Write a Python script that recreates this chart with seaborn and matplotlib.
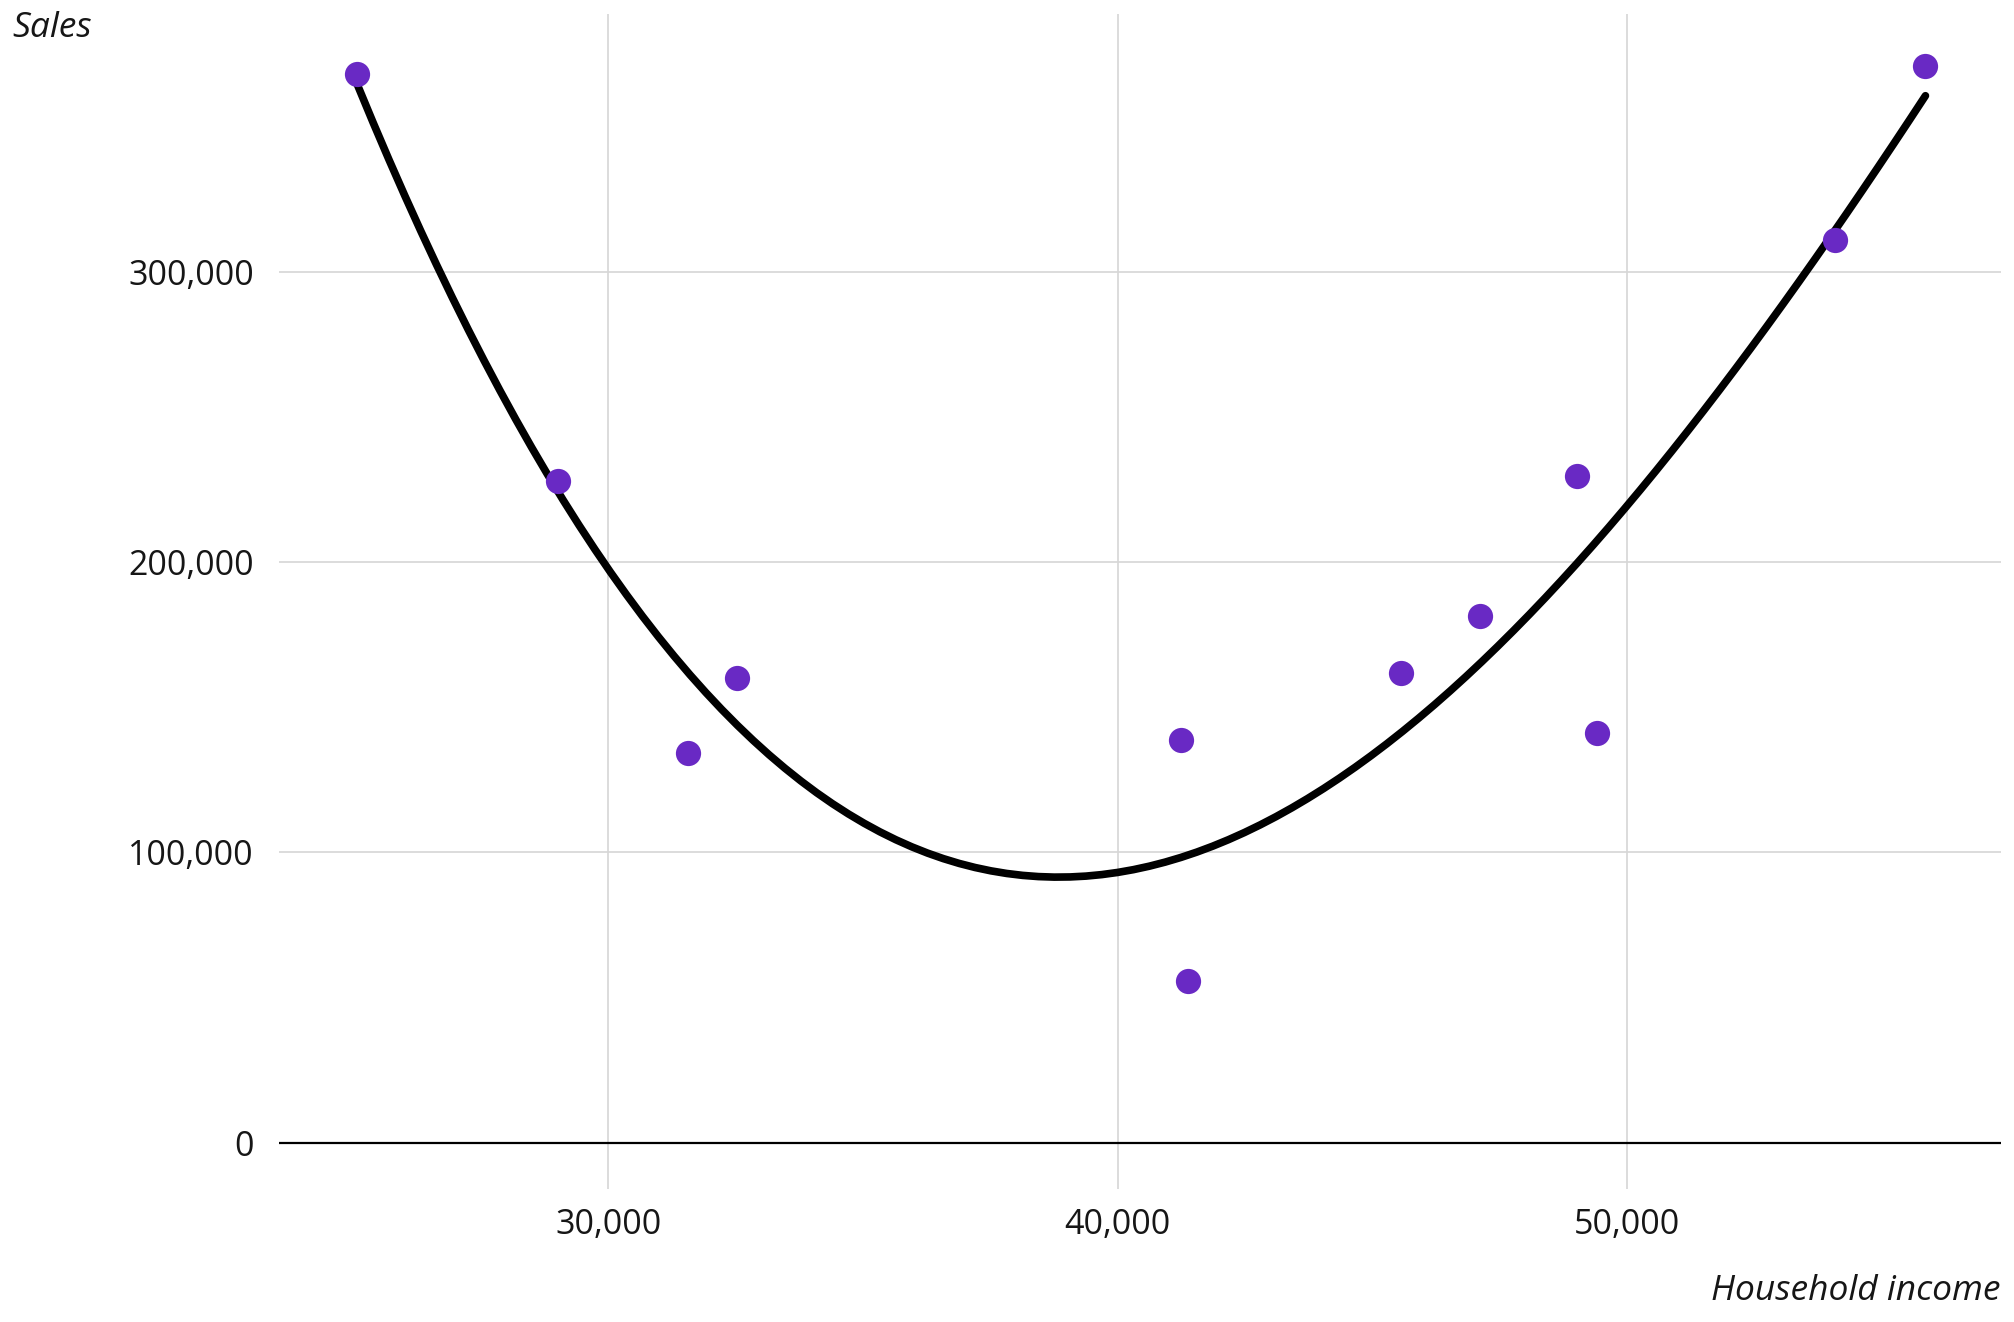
import numpy as np
import pandas as pd
import matplotlib
matplotlib.use("Agg")
import matplotlib.pyplot as plt
from matplotlib.ticker import FuncFormatter
import seaborn as sns

# values
household_income = [25076, 29015, 31566, 32525, 41237, 41389,
                     45556, 47121, 49015, 49419, 54091, 55859]
sales = [368100, 227900, 134100, 160200, 138900, 55800,
         161900, 181400, 229600, 141200, 311100, 370800]
x_ticks = [30000, 40000, 50000]
y_ticks = [0, 100000, 200000, 300000]

df = pd.DataFrame({"Household income": household_income, "Sales": sales})

sns.set_theme(style="white")
plt.rcParams["font.family"] = ["Open Sans", "DejaVu Sans"]

fig = plt.figure(figsize=(20.15, 13.22), dpi=100)
ax = fig.add_axes([0.1385, 0.1006, 0.8545, 0.889])

# fitted polynomial curve + points
sns.regplot(data=df, x="Household income", y="Sales", order=3, ci=None,
            scatter_kws={"s": 330, "color": "#6929c4", "alpha": 1, "linewidths": 0, "zorder": 3},
            line_kws={"color": "black", "lw": 5.5, "zorder": 2},
            ax=ax)

ax.set_xlim(23540, 57340)
ax.set_ylim(-15930, 388940)
ax.set_xticks(x_ticks)
ax.set_yticks(y_ticks)
fmt = FuncFormatter(lambda v, p: f"{int(v):,}")
ax.xaxis.set_major_formatter(fmt)
ax.yaxis.set_major_formatter(fmt)
ax.tick_params(axis="both", length=0, labelsize=24.5, colors="#161616")
ax.tick_params(axis="x", pad=14)
ax.tick_params(axis="y", pad=18)

ax.grid(True, color="#d6d6d6", lw=1.2, zorder=0)
ax.set_axisbelow(True)
ax.axhline(0, color="black", lw=1.6, zorder=1)
for s in ax.spines.values():
    s.set_visible(False)

ax.set_xlabel("")
ax.set_ylabel("")
fig.text(0.006, 0.972, "Sales", fontsize=25.5, style="italic", color="#161616",
         ha="left", va="baseline")
fig.text(0.993, 0.017, "Household income", fontsize=25.5, style="italic",
         color="#161616", ha="right", va="baseline")

fig.savefig("out.png", dpi=100)
